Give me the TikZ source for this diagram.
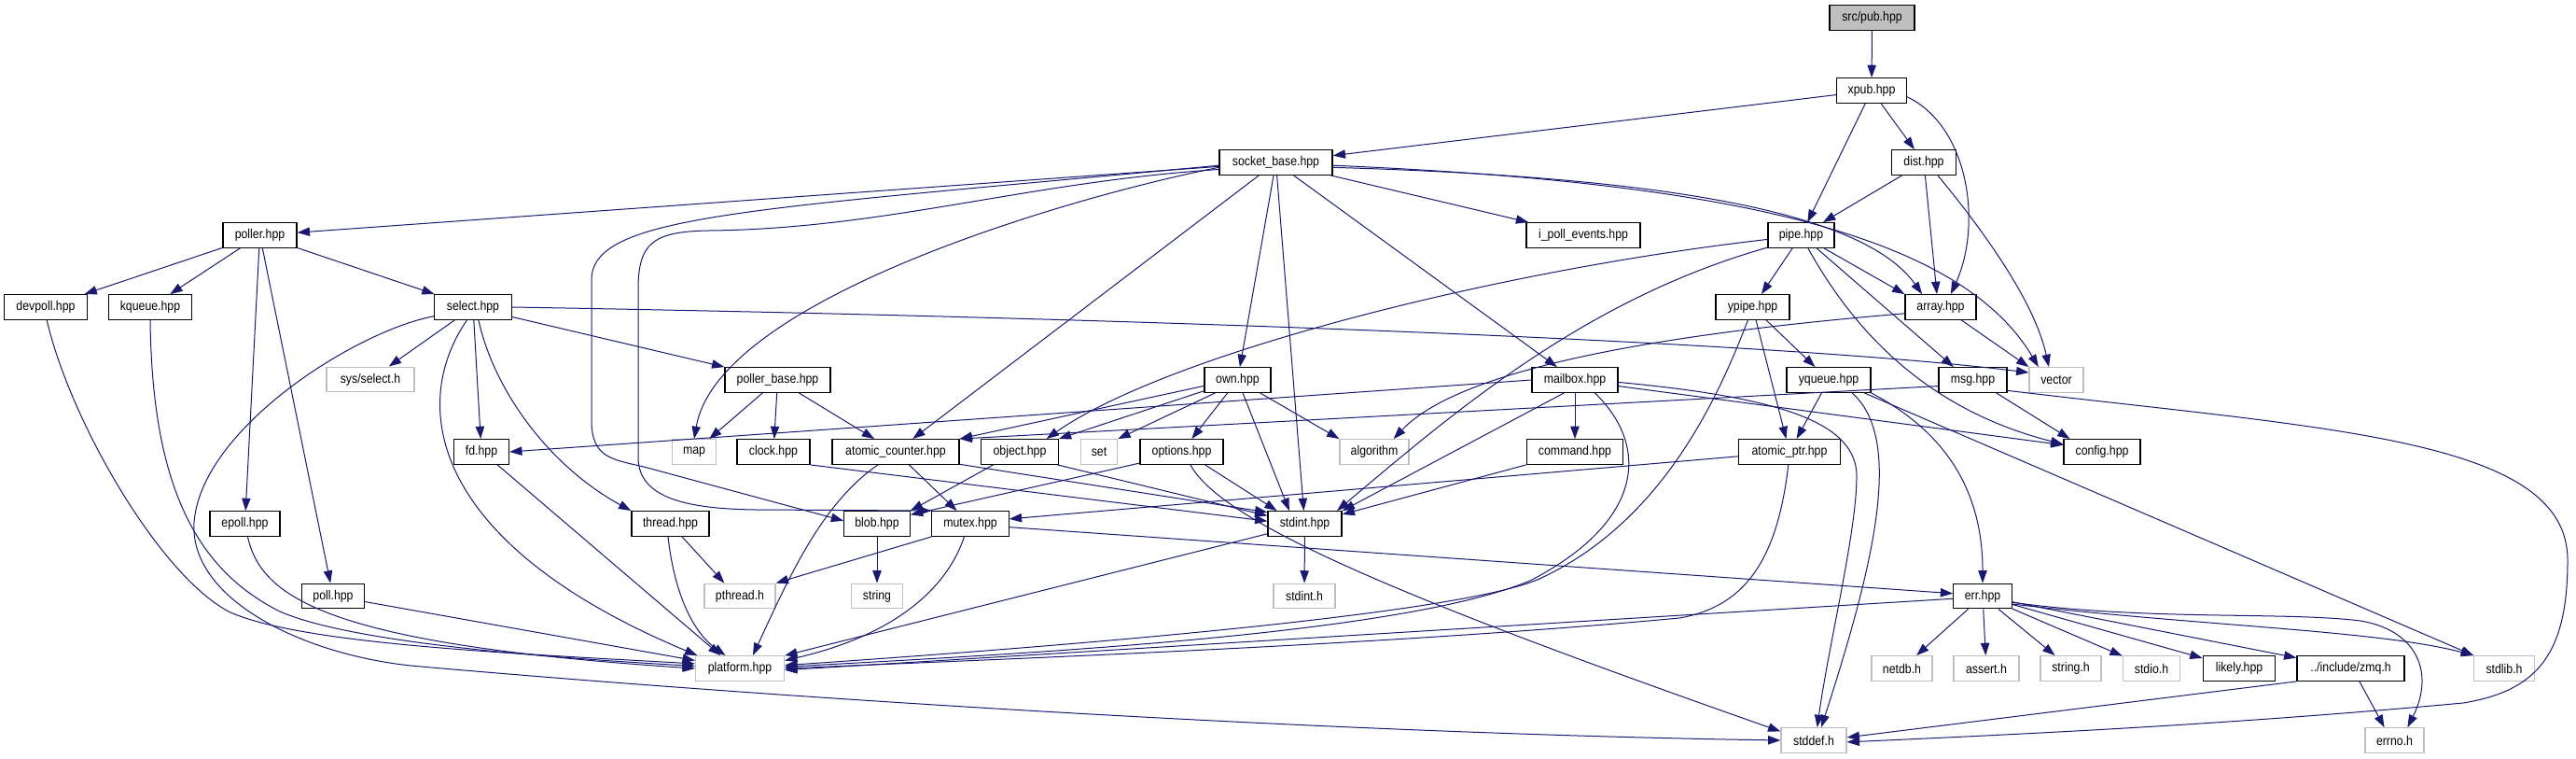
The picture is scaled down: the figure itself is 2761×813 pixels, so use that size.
\documentclass[tikz,border=0pt]{standalone}
\usepackage{fontspec}
\setmainfont{Liberation Sans}[FakeStretch=0.88]
\usepackage{tikz}
\usepackage{xcolor}
\usetikzlibrary{arrows.meta}
\definecolor{edgeblue}{HTML}{191970}

\begin{document}
\begin{tikzpicture}[
    x=0.75pt, y=-0.75pt,
    file/.style={
        rectangle,
        draw=black,
        line width=0.9pt,
        inner sep=1pt,
        minimum height=20pt,
        font=\fontsize{10.5}{12}\selectfont
    },
    sysfile/.style={
        file,
        draw=gray!50
    },
    arrow/.style={-{Triangle[length=10pt,width=7pt]}, edgeblue, line width=0.75pt}
]

\fill[white] (0,0) rectangle (2761,813);

\node[file, fill=gray!50, minimum width=68.3pt] (pub) at (2006.5,19) {src/pub.hpp};
\node[file, minimum width=55.9pt] (xpub) at (2006,97) {xpub.hpp};
\node[file, minimum width=90.8pt] (sock) at (1367.5,174) {socket\_base.hpp};
\node[file, minimum width=51.5pt] (dist) at (2062,174) {dist.hpp};
\node[file, minimum width=59.3pt] (poller) at (278.5,252) {poller.hpp};
\node[file, minimum width=91.5pt] (ipoll) at (1697,252) {i\_poll\_events.hpp};
\node[file, minimum width=53.3pt] (pipe) at (1930.5,252) {pipe.hpp};
\node[file, minimum width=66.4pt] (devpoll) at (49,329) {devpoll.hpp};
\node[file, minimum width=67.1pt] (kqueue) at (161,329) {kqueue.hpp};
\node[file, minimum width=62.3pt] (select) at (507,329) {select.hpp};
\node[file, minimum width=59.3pt] (ypipe) at (1878.5,329) {ypipe.hpp};
\node[file, minimum width=57pt] (array) at (2080,329) {array.hpp};
\node[sysfile, minimum width=70.5pt] (syssel) at (397,406.5) {sys/select.h};
\node[file, minimum width=84.8pt] (pollerbase) at (833.5,407) {poller\_base.hpp};
\node[file, minimum width=53.3pt] (own) at (1326.5,407) {own.hpp};
\node[file, minimum width=69pt] (mailbox) at (1688,407) {mailbox.hpp};
\node[file, minimum width=67.5pt] (yqueue) at (1960,407) {yqueue.hpp};
\node[file, minimum width=54.8pt] (msg) at (2114.5,407) {msg.hpp};
\node[sysfile, minimum width=43.5pt] (vector) at (2204,407) {vector};
\node[file, minimum width=44.3pt] (fd) at (516,484) {fd.hpp};
\node[sysfile, minimum width=34.8pt] (map) at (744,484) {map};
\node[file, minimum width=58.5pt] (clock) at (829,484) {clock.hpp};
\node[file, minimum width=102pt] (atomc) at (960,484) {atomic\_counter.hpp};
\node[file, minimum width=61.9pt] (object) at (1093,484) {object.hpp};
\node[sysfile, minimum width=29.6pt] (set) at (1178,484) {set};
\node[file, minimum width=66.8pt] (options) at (1266.5,484) {options.hpp};
\node[sysfile, minimum width=55.5pt] (algorithm) at (1473,484) {algorithm};
\node[file, minimum width=77.6pt] (command) at (1688,484) {command.hpp};
\node[file, minimum width=81.4pt] (atomptr) at (1918,484) {atomic\_ptr.hpp};
\node[file, minimum width=61.5pt] (config) at (2253,484) {config.hpp};
\node[file, minimum width=56.3pt] (epoll) at (262.5,561) {epoll.hpp};
\node[file, minimum width=62.3pt] (thread) at (718.5,561) {thread.hpp};
\node[file, minimum width=52.9pt] (blob) at (940,561) {blob.hpp};
\node[file, minimum width=61.7pt] (mutex) at (1040,561) {mutex.hpp};
\node[file, minimum width=59.3pt] (stdinthpp) at (1398.5,561) {stdint.hpp};
\node[file, minimum width=50pt] (poll) at (357,638.5) {poll.hpp};
\node[sysfile, minimum width=57pt] (pthread) at (793,638.5) {pthread.h};
\node[sysfile, minimum width=40.8pt] (string) at (940,638.5) {string};
\node[sysfile, minimum width=49.5pt] (stdinth) at (1398,638.5) {stdint.h};
\node[file, minimum width=46.9pt] (err) at (2125,638.5) {err.hpp};
\node[sysfile, minimum width=71.3pt] (platform) at (793,716) {platform.hpp};
\node[sysfile, minimum width=48.8pt] (netdb) at (2038.5,716) {netdb.h};
\node[sysfile, minimum width=52.5pt] (assert) at (2129,716) {assert.h};
\node[sysfile, minimum width=48.8pt] (stringh) at (2219.5,716) {string.h};
\node[sysfile, minimum width=46pt] (stdio) at (2306,716) {stdio.h};
\node[file, minimum width=58.2pt] (likely) at (2400,716) {likely.hpp};
\node[file, minimum width=86.3pt] (zmq) at (2519.5,716) {../include/zmq.h};
\node[sysfile, minimum width=48.4pt] (stdlib) at (2684,716) {stdlib.h};
\node[sysfile, minimum width=52.5pt] (stddef) at (1944,793) {stddef.h};
\node[sysfile, minimum width=47.3pt] (errno) at (2566.5,793) {errno.h};

\draw[arrow] (pub) -- (xpub);
\draw[arrow] (xpub) -- (sock);
\draw[arrow] (xpub) -- (pipe);
\draw[arrow] (xpub) -- (dist);
\draw[arrow] (xpub.-10) .. controls (2110,135) and (2125,240) .. (array.52);

\draw[arrow] (dist) -- (pipe);
\draw[arrow] (dist) -- (array.106);
\draw[arrow] (dist.-43) .. controls (2120,240) and (2180,320) .. (vector.120);

\draw[arrow] (sock) -- (poller);
\draw[arrow] (sock) -- (ipoll);
\draw[arrow] (sock) -- (mailbox);
\draw[arrow] (sock) -- (own);
\draw[arrow] (sock) -- (stdinthpp);
\draw[arrow] (sock) -- (atomc);
\draw[arrow] (sock.185) .. controls (1150,210) and (770,320) .. (map.north);
\draw[arrow] (sock.183) .. controls (800,225) and (634,230) .. (634,300) -- (634,450) .. controls (634,490) and (655,492) .. (690,500) -- (blob.175);
\draw[arrow] (sock.187) .. controls (1100,195) and (950,245) .. (760,247) .. controls (700,248) and (684,260) .. (684,310) -- (684,490) .. controls (684,535) and (740,545) .. (810,546) -- (mutex.north west);
\draw[arrow] (sock.-5) .. controls (1800,190) and (2000,230) .. (array.145);
\draw[arrow] (sock.-3) .. controls (1850,195) and (2100,250) .. (vector.144);

\draw[arrow] (poller) -- (devpoll);
\draw[arrow] (poller) -- (kqueue);
\draw[arrow] (poller) -- (select);
\draw[arrow] (poller) -- (epoll);
\draw[arrow] (poller) -- (poll);

\draw[arrow] (devpoll.-85) .. controls (75,450) and (170,615) .. (245,655) .. controls (320,690) and (550,700) .. (platform.174);
\draw[arrow] (kqueue.south) .. controls (163,520) and (210,610) .. (300,655) .. controls (380,690) and (600,705) .. (platform.177);
\draw[arrow] (epoll.-78) .. controls (280,640) and (350,690) .. (platform.180);
\draw[arrow] (poll.-10) -- (platform.170);

\draw[arrow] (select.-115) .. controls (440,430) and (455,580) .. (platform.163);
\draw[arrow] (select.-167) .. controls (380,355) and (215,460) .. (208,560) .. controls (203,640) and (320,700) .. (440,713) .. controls (800,745) and (1400,785) .. (stddef.west);
\draw[arrow] (select) -- (syssel);
\draw[arrow] (select) -- (fd);
\draw[arrow] (select.-67) .. controls (530,420) and (590,500) .. (thread.north west);
\draw[arrow] (select.-14) -- (pollerbase.north west);
\draw[arrow] (select.east) .. controls (1200,340) and (1900,365) .. (vector.165);

\draw[arrow] (pollerbase) -- (map);
\draw[arrow] (pollerbase) -- (clock);
\draw[arrow] (pollerbase) -- (atomc);

\draw[arrow] (own.-170) -- (atomc.north east);
\draw[arrow] (own.-162) -- (object.north east);
\draw[arrow] (own.-150) -- (set.north east);
\draw[arrow] (own) -- (options);
\draw[arrow] (own) -- (stdinthpp.140);
\draw[arrow] (own.-30) -- (algorithm.north west);

\draw[arrow] (pipe.-173) .. controls (1600,290) and (1250,380) .. (object.26);
\draw[arrow] (pipe.-160) .. controls (1700,320) and (1560,440) .. (stdinthpp.22);
\draw[arrow] (pipe) -- (ypipe);
\draw[arrow] (pipe) -- (array.north west);
\draw[arrow] (pipe.-40) -- (msg.146);
\draw[arrow] (pipe.-62) .. controls (1990,360) and (2070,440) .. (config.169);

\draw[arrow] (ypipe.-110) .. controls (1840,430) and (1780,560) .. (1650,620) .. controls (1560,660) and (1100,695) .. (platform.4);
\draw[arrow] (ypipe) -- (atomptr);
\draw[arrow] (ypipe) -- (yqueue);

\draw[arrow] (yqueue) -- (atomptr);
\draw[arrow] (yqueue.-29) .. controls (2040,470) and (2010,600) .. (stddef.60);
\draw[arrow] (yqueue.south east) .. controls (2080,460) and (2125,520) .. (err.north);
\draw[arrow] (yqueue.-20) -- (stdlib.north west);

\draw[arrow] (mailbox.west) -- (fd.east);
\draw[arrow] (mailbox) -- (command);
\draw[arrow] (mailbox.-130) -- (stdinthpp.19);
\draw[arrow] (mailbox.-33) .. controls (1770,480) and (1760,560) .. (1640,622) .. controls (1500,680) and (1100,700) .. (platform.2);
\draw[arrow] (mailbox.-8) -- (config.170);
\draw[arrow] (mailbox.-3) .. controls (1900,425) and (1990,450) .. (1990,510) .. controls (1990,570) and (1960,690) .. (stddef.75);

\draw[arrow] (command.south west) -- (stdinthpp.14);

\draw[arrow] (atomptr.-175) -- (mutex.7);
\draw[arrow] (atomptr.-95) .. controls (1905,600) and (1870,650) .. (1800,662) .. controls (1500,690) and (1100,705) .. (platform.0);

\draw[arrow] (msg.-170) -- (atomc.north east);
\draw[arrow] (msg.-29) -- (config.158);
\draw[arrow] (msg.-17) .. controls (2500,460) and (2752,470) .. (2752,600) .. controls (2752,700) and (2720,740) .. (2640,753) .. controls (2400,775) and (2200,785) .. (stddef.-3);

\draw[arrow] (array.-32) -- (vector.north west);
\draw[arrow] (array.-170) .. controls (1750,360) and (1560,400) .. (algorithm.34);

\draw[arrow] (options.-165) -- (blob.15);
\draw[arrow] (options.-29) -- (stdinthpp.155);
\draw[arrow] (options.-56) .. controls (1310,560) and (1500,640) .. (stddef.165);

\draw[arrow] (object.-154) -- (blob.north east);
\draw[arrow] (object.-19) -- (stdinthpp.168);

\draw[arrow] (atomc.-144) .. controls (880,540) and (845,620) .. (platform.45);
\draw[arrow] (atomc) -- (mutex);
\draw[arrow] (atomc.-11) -- (stdinthpp.163);

\draw[arrow] (clock.south east) -- (stdinthpp.176);

\draw[arrow] (mutex.south west) -- (pthread.north east);
\draw[arrow] (mutex.-115) .. controls (1015,630) and (960,680) .. (platform.10);
\draw[arrow] (mutex.-5) -- (err.175);

\draw[arrow] (blob) -- (string);

\draw[arrow] (thread.-100) .. controls (722,630) and (740,675) .. (platform.138);
\draw[arrow] (thread.-48) -- (pthread.140);

\draw[arrow] (fd.-39) -- (platform.146);

\draw[arrow] (stdinthpp) -- (stdinth);
\draw[arrow] (stdinthpp.-165) -- (platform.16);

\draw[arrow] (err.-175) -- (platform.-2);
\draw[arrow] (err) -- (netdb);
\draw[arrow] (err) -- (assert);
\draw[arrow] (err) -- (stringh);
\draw[arrow] (err) -- (stdio);
\draw[arrow] (err) -- (likely);
\draw[arrow] (err) -- (zmq);
\draw[arrow] (err.-15) .. controls (2350,670) and (2550,675) .. (stdlib.north west);
\draw[arrow] (err.-12) .. controls (2300,665) and (2450,655) .. (2530,665) .. controls (2590,675) and (2610,720) .. (errno.45);

\draw[arrow] (zmq.-56) -- (errno.128);
\draw[arrow] (zmq.south west) -- (stddef.5);

\end{tikzpicture}
\end{document}
